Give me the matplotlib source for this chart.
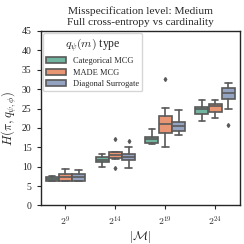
import matplotlib
matplotlib.use('Agg')
import matplotlib.pyplot as plt
import seaborn as sns
from matplotlib.patches import Patch

sns.set_style('ticks')
plt.rcParams['font.family'] = ['Liberation Serif', 'DejaVu Serif']
plt.rcParams['mathtext.fontset'] = 'cm'

cardinalities = ['$2^{9}$', '$2^{14}$', '$2^{19}$', '$2^{24}$']
models = ['Categorical MCG', 'MADE MCG', 'Diagonal Surrogate']

# box stats per model, one entry per cardinality: (whislo, q1, med, q3, whishi)
cat_stats = [(6.2, 6.35, 6.8, 7.3, 7.5), (9.85, 11.2, 11.8, 12.4, 13.3),
             (15.8, 16.0, 17.1, 17.7, 19.7), (21.9, 23.6, 24.9, 25.4, 27.1)]
made_stats = [(6.2, 6.35, 7.3, 8.0, 9.3), (12.0, 12.3, 13.0, 13.7, 13.9),
              (15.2, 18.6, 20.9, 23.2, 25.1), (22.5, 24.1, 25.7, 26.2, 27.3)]
diag_stats = [(6.2, 6.4, 7.4, 8.15, 9.1), (9.6, 11.6, 12.5, 13.3, 15.0),
              (18.2, 19.2, 20.4, 21.5, 24.7), (24.9, 27.5, 29.0, 30.3, 31.5)]
cat_fliers = [[], [], [], []]
made_fliers = [[], [17.1, 9.7], [32.6], []]
diag_fliers = [[], [16.6], [], [20.7]]

colors = [sns.desaturate(c, 0.75) for c in sns.color_palette('Set2', 3)]
edge = '0.35'

fig = plt.figure(figsize=(2.44, 2.44), dpi=100)
ax = fig.add_axes([0.166, 0.158, 0.818, 0.715])

all_stats = [cat_stats, made_stats, diag_stats]
all_fliers = [cat_fliers, made_fliers, diag_fliers]
width = 0.8 / 3
for j in range(3):
    stats = []
    for i in range(len(cardinalities)):
        lo, q1, med, q3, hi = all_stats[j][i]
        stats.append({'whislo': lo, 'q1': q1, 'med': med, 'q3': q3,
                      'whishi': hi, 'fliers': all_fliers[j][i]})
    pos = [i + (j - 1) * width for i in range(len(cardinalities))]
    ax.bxp(stats, positions=pos, widths=width * 0.98, patch_artist=True,
           manage_ticks=False,
           boxprops=dict(facecolor=colors[j], edgecolor=edge, linewidth=1.2),
           medianprops=dict(color=edge, linewidth=1.2),
           whiskerprops=dict(color=edge, linewidth=1.2),
           capprops=dict(color=edge, linewidth=1.2),
           flierprops=dict(marker='d', markersize=2, markerfacecolor=edge,
                           markeredgecolor=edge))

ax.set_xticks(range(len(cardinalities)))
ax.set_xticklabels(cardinalities)
ax.set_xlim(-0.5, 3.5)
ax.set_ylim(0, 45)
ax.set_yticks(range(0, 46, 5))
ax.tick_params(labelsize=7, length=3, width=0.8)
for s in ax.spines.values():
    s.set_linewidth(1.0)
    s.set_color('0.15')

ax.set_xlabel(r'$|\mathcal{M}|$', fontsize=9, labelpad=1)
ax.set_ylabel(r'$H(\pi, q_{\psi,\phi})$', fontsize=9, labelpad=2)
ax.set_title('Misspecification level: Medium\nFull cross-entropy vs cardinality',
             fontsize=8.2, pad=4, linespacing=1.3)

handles = [Patch(facecolor=colors[j], edgecolor=edge, linewidth=1.2, label=models[j])
           for j in range(3)]
ax.legend(handles=handles, title=r'$q_{\psi}(m)$ type', loc='upper left',
          fontsize=6.0, title_fontsize=8.5, frameon=True, borderaxespad=0.3,
          handlelength=2.4, labelspacing=0.4)

plt.savefig('out.png', dpi=100)
